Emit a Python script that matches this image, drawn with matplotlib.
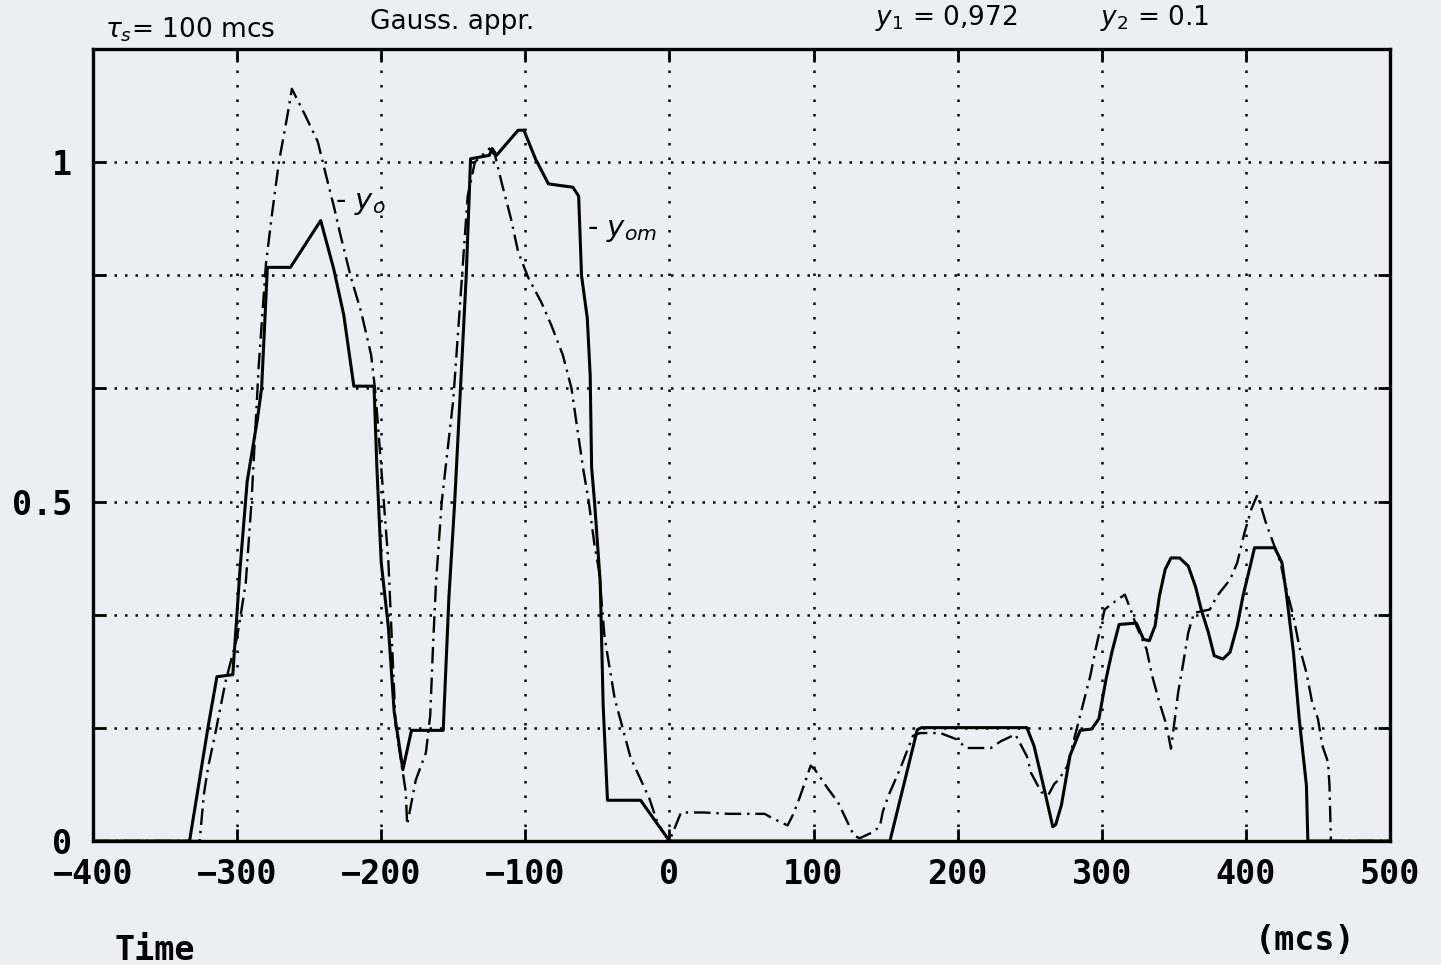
"""Gaussian approximation plot: y_o (dash-dot) vs y_om (solid), tau_s = 100 mcs."""
import numpy as np
import matplotlib
matplotlib.use("Agg")
import matplotlib.pyplot as plt

# ---- data --------------------------------------------------------------------------
# y_om: solid curve
t_yom = [-400, -333, -320, -314, -303, -298, -293, -286, -283, -279,
         -263, -242, -233, -226, -219, -205, -203, -200, -195, -191,
         -186, -185, -179, -157, -153, -149, -145, -141, -138, -125,
         -123, -120, -105, -101, -93, -84, -67, -63, -61, -57,
         -55, -54, -52, -48, -46, -43, -20, 0, 153, 172,
         175, 248, 253, 260, 266, 268, 272, 278, 285, 293,
         298, 303, 307, 312, 324, 329, 333, 337, 340, 344,
         348, 354, 360, 365, 369, 374, 378, 384, 389, 394,
         398, 403, 406, 420, 425, 428, 433, 437, 442, 443,
         500]
y_om = [0, 0, 0.17, 0.242, 0.245, 0.40, 0.53, 0.62, 0.667, 0.845,
        0.845, 0.914, 0.843, 0.775, 0.67, 0.67, 0.55, 0.41, 0.314, 0.19,
        0.12, 0.105, 0.163, 0.163, 0.36, 0.50, 0.667, 0.833, 1.005, 1.01,
        1.02, 1.01, 1.047, 1.047, 1.005, 0.968, 0.963, 0.95, 0.833, 0.77,
        0.686, 0.55, 0.50, 0.38, 0.20, 0.06, 0.06, 0, 0, 0.164,
        0.167, 0.167, 0.14, 0.077, 0.021, 0.024, 0.053, 0.126, 0.163, 0.165,
        0.18, 0.239, 0.278, 0.319, 0.321, 0.297, 0.295, 0.317, 0.361, 0.40,
        0.417, 0.417, 0.405, 0.375, 0.341, 0.307, 0.273, 0.268, 0.278, 0.317,
        0.361, 0.405, 0.432, 0.432, 0.41, 0.366, 0.278, 0.18, 0.082, 0,
        0]

# y_o: dash-dot curve
t_yo = [-400, -326, -323, -320, -315, -308, -300, -294, -290, -285,
        -280, -276, -271, -265, -262, -253, -244, -240, -233, -228,
        -221, -214, -207, -204, -200, -195, -190, -183, -182, -176,
        -169, -166, -164, -162, -158, -150, -145, -140, -135, -125,
        -121, -116, -110, -105, -98, -89, -82, -74, -68, -64,
        -60, -56, -52, -49, -45, -38, -27, -14, -8, 0,
        8, 24, 41, 58, 66, 72, 82, 86, 90, 93,
        98, 101, 110, 117, 124, 128, 132, 140, 146, 148,
        152, 160, 169, 174, 188, 199, 206, 223, 230, 240,
        248, 251, 258, 263, 267, 270, 276, 282, 288, 292,
        296, 302, 308, 316, 320, 324, 331, 335, 340, 345,
        348, 351, 353, 357, 360, 364, 375, 380, 389, 394,
        399, 404, 408, 414, 419, 424, 427, 433, 437, 442,
        446, 450, 453, 457, 458, 459, 500]
y_o = [0, 0, 0.07, 0.11, 0.16, 0.235, 0.30, 0.38, 0.50, 0.70,
       0.85, 0.92, 1.0, 1.07, 1.108, 1.07, 1.03, 0.995, 0.936, 0.89,
       0.83, 0.78, 0.716, 0.66, 0.55, 0.41, 0.17, 0.073, 0.024, 0.09,
       0.13, 0.185, 0.29, 0.38, 0.50, 0.65, 0.80, 0.95, 1.0, 1.02,
       1.01, 0.966, 0.917, 0.868, 0.83, 0.794, 0.76, 0.716, 0.667, 0.608,
       0.55, 0.50, 0.436, 0.40, 0.30, 0.21, 0.123, 0.063, 0.025, 0,
       0.042, 0.042, 0.04, 0.04, 0.04, 0.033, 0.023, 0.04, 0.062, 0.08,
       0.111, 0.105, 0.077, 0.057, 0.026, 0.008, 0.004, 0.012, 0.021, 0.043,
       0.067, 0.106, 0.155, 0.159, 0.159, 0.15, 0.137, 0.137, 0.147, 0.157,
       0.125, 0.10, 0.072, 0.068, 0.084, 0.09, 0.11, 0.16, 0.21, 0.243,
       0.285, 0.341, 0.351, 0.363, 0.341, 0.317, 0.283, 0.243, 0.204, 0.17,
       0.136, 0.185, 0.219, 0.268, 0.307, 0.336, 0.341, 0.361, 0.385, 0.41,
       0.454, 0.49, 0.51, 0.468, 0.439, 0.41, 0.38, 0.331, 0.287, 0.248,
       0.204, 0.18, 0.141, 0.116, 0.082, 0, 0]

x_ticks = [-400, -300, -200, -100, 0, 100, 200, 300, 400, 500]
y_ticks = [0, 1 / 6, 2 / 6, 3 / 6, 4 / 6, 5 / 6, 1]
y_ticklabels = ["0", "", "", "0.5", "", "", "1"]

# ---- figure ---------------------------------------------------------------------------
W, H = 1441, 965
paper = "#eceef3"
mono = {"family": "DejaVu Sans Mono", "weight": "bold", "size": 24}

fig = plt.figure(figsize=(W / 100, H / 100), dpi=100)
fig.patch.set_facecolor(paper)
ax = fig.add_axes([93 / W, 1 - 841 / H, (1390 - 93) / W, (841 - 49) / H])
ax.set_facecolor(paper)

ax.plot(t_yom, y_om, color="black", lw=2.2, zorder=3)
ax.plot(t_yo, y_o, color="black", lw=1.7, linestyle=(0, (7, 2.5, 1, 2.5)), zorder=3)

ax.set_xlim(-400, 500)
ax.set_ylim(0, 7 / 6)
ax.set_xticks(x_ticks)
ax.set_yticks(y_ticks)
ax.set_yticklabels(y_ticklabels)

# dotted grid, a bit denser along the horizontals like the plotter output
ax.grid(axis="y", color="black", lw=1.8, linestyle=(0, (1, 3.2)))
ax.grid(axis="x", color="black", lw=1.8, linestyle=(0, (1, 4.8)))
ax.set_axisbelow(True)

ax.tick_params(direction="in", length=9, width=2, top=True, right=True)
ax.tick_params(axis="x", pad=12)
ax.tick_params(axis="y", pad=15)
for lbl in ax.get_xticklabels() + ax.get_yticklabels():
    lbl.set_fontproperties(matplotlib.font_manager.FontProperties(**mono))
for sp in ax.spines.values():
    sp.set_linewidth(2.4)

# curve labels (handwritten on the original)
ax.text(-232, 0.94, r"- $y_o$", fontsize=21, va="center", ha="left")
ax.text(-57, 0.90, r"- $y_{om}$", fontsize=21, va="center", ha="left")

# header notes
fig.text(105 / W, 1 - 30 / H, r"$\tau_s$= 100 mcs", fontsize=19, va="center", ha="left")
fig.text(370 / W, 1 - 22 / H, "Gauss. appr.", fontsize=19, va="center", ha="left")
fig.text(875 / W, 1 - 18 / H, r"$y_1$ = 0,972", fontsize=19, va="center", ha="left")
fig.text(1100 / W, 1 - 18 / H, r"$y_2$ = 0.1", fontsize=19, va="center", ha="left")

# axis captions
fig.text(155 / W, 1 - 950 / H, "Time", va="center", ha="center", **mono)
fig.text(1305 / W, 1 - 940 / H, "(mcs)", va="center", ha="center", **mono)

fig.savefig("out.png", dpi=100, facecolor=paper)
